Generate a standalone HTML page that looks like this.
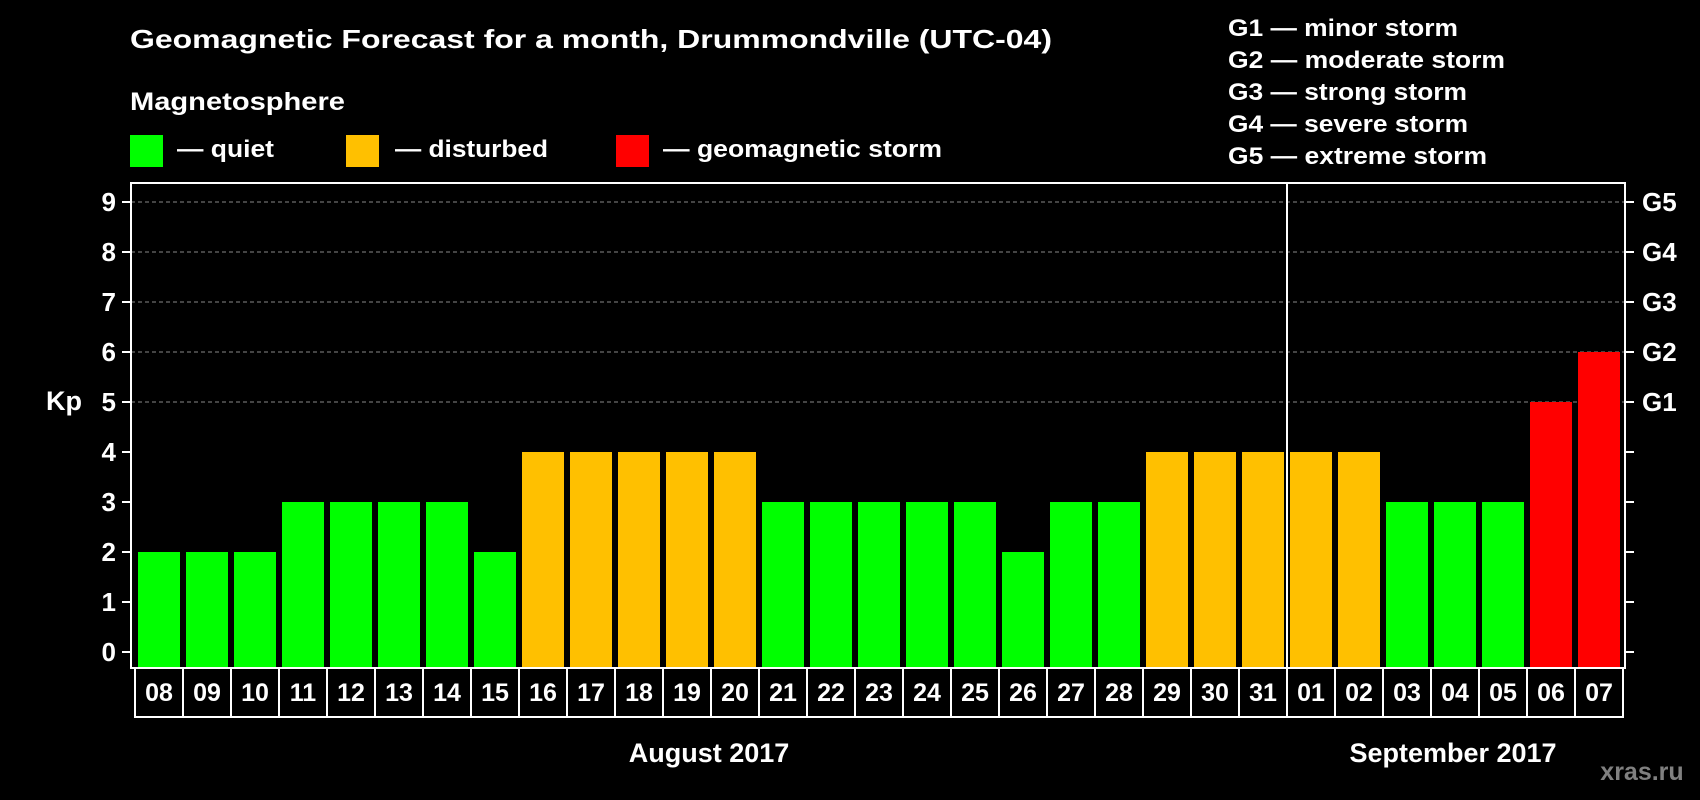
<!DOCTYPE html>
<html><head><meta charset="utf-8"><style>
html,body{margin:0;padding:0;background:#000;}
svg{display:block;font-family:"Liberation Sans",Arial,sans-serif;font-weight:bold;}
</style></head><body>
<svg id="chart" width="1700" height="800" viewBox="0 0 1700 800" xmlns="http://www.w3.org/2000/svg">
<rect x="0" y="0" width="1700" height="800" fill="#000"/>
<text x="130" y="48" fill="#fff" font-size="26" textLength="922" lengthAdjust="spacingAndGlyphs">Geomagnetic Forecast for a month, Drummondville (UTC-04)</text>
<text x="130" y="110" fill="#fff" font-size="25" textLength="215" lengthAdjust="spacingAndGlyphs">Magnetosphere</text>
<rect x="130" y="135" width="33" height="32" fill="#00ff00"/>
<text x="177" y="157" fill="#fff" font-size="24" textLength="97" lengthAdjust="spacingAndGlyphs">— quiet</text>
<rect x="346" y="135" width="33" height="32" fill="#ffc000"/>
<text x="395" y="157" fill="#fff" font-size="24" textLength="153" lengthAdjust="spacingAndGlyphs">— disturbed</text>
<rect x="616" y="135" width="33" height="32" fill="#ff0000"/>
<text x="663" y="157" fill="#fff" font-size="24" textLength="279" lengthAdjust="spacingAndGlyphs">— geomagnetic storm</text>
<text x="1228" y="36" fill="#fff" font-size="24" textLength="230" lengthAdjust="spacingAndGlyphs">G1 — minor storm</text>
<text x="1228" y="68" fill="#fff" font-size="24" textLength="277" lengthAdjust="spacingAndGlyphs">G2 — moderate storm</text>
<text x="1228" y="100" fill="#fff" font-size="24" textLength="239" lengthAdjust="spacingAndGlyphs">G3 — strong storm</text>
<text x="1228" y="132" fill="#fff" font-size="24" textLength="240" lengthAdjust="spacingAndGlyphs">G4 — severe storm</text>
<text x="1228" y="164" fill="#fff" font-size="24" textLength="259" lengthAdjust="spacingAndGlyphs">G5 — extreme storm</text>
<g id="grid"></g>
<g id="bars"></g>
<g id="axes"></g>
<text x="64" y="410" fill="#fff" font-size="27" text-anchor="middle">Kp</text>
<text x="709" y="762" fill="#fff" font-size="27" text-anchor="middle">August 2017</text>
<text x="1453" y="762" fill="#fff" font-size="27" text-anchor="middle">September 2017</text>
<text x="1642" y="780" fill="#808080" font-size="25" text-anchor="middle">xras.ru</text>
</svg>
<script>
const days = ["08","09","10","11","12","13","14","15","16","17","18","19","20","21","22","23","24","25","26","27","28","29","30","31","01","02","03","04","05","06","07"];
const kpValues = [2,2,2,3,3,3,3,2,4,4,4,4,4,3,3,3,3,3,2,3,3,4,4,4,4,4,3,3,3,5,6];
const yTicks = [0,1,2,3,4,5,6,7,8,9];
const gLabels = ["G1","G2","G3","G4","G5"];
const gLevels = [5,6,7,8,9];
const monthBreakIndex = 24;

const NS = "http://www.w3.org/2000/svg";
const plotL = 131, plotR = 1625, plotT = 183, plotB = 668;
const y0 = 652, unit = 50;
const barStart = 138, pitch = 48, barW = 42;
const yScale = v => y0 - v * unit;
const xScale = i => barStart + i * pitch;
function mk(tag, attrs, parent) {
  const e = document.createElementNS(NS, tag);
  for (const k in attrs) e.setAttribute(k, attrs[k]);
  parent.appendChild(e);
  return e;
}
const grid = document.getElementById('grid');
const bars = document.getElementById('bars');
const axes = document.getElementById('axes');
function color(v){ return v >= 5 ? "#ff0000" : (v >= 4 ? "#ffc000" : "#00ff00"); }

gLevels.forEach((lv, i) => {
  const l = mk('line', {x1: plotL, x2: plotR, y1: yScale(lv), y2: yScale(lv), stroke: "#888", "stroke-width": 1, "stroke-dasharray": "4,3"}, grid);
  
  
  const t = mk('text', {x: 1642, y: yScale(lv) + 9, fill: "#fff", "font-size": 26}, axes);
  t.textContent = gLabels[i];
  
  
});

kpValues.forEach((v, i) => {
  const r = mk('rect', {x: xScale(i), y: yScale(v), width: barW, height: plotB - yScale(v), fill: color(v)}, bars);
  
  
  const b = mk('rect', {x: xScale(i) - 3, y: plotB, width: pitch, height: 49, fill: "none", stroke: "#fff", "stroke-width": 2}, axes);
  
  
  const t = mk('text', {x: xScale(i) + barW / 2, y: 701, fill: "#fff", "font-size": 25, "text-anchor": "middle"}, axes);
  t.textContent = days[i];
  
  
});

const fr = mk('rect', {x: plotL, y: plotT, width: plotR - plotL, height: plotB - plotT, fill: "none", stroke: "#fff", "stroke-width": 2}, axes);


const sep = mk('line', {x1: xScale(monthBreakIndex) - 3, x2: xScale(monthBreakIndex) - 3, y1: plotT, y2: plotB, stroke: "#fff", "stroke-width": 2}, axes);



yTicks.forEach(v => {
  const y = yScale(v);
  const tl = mk('line', {x1: plotL - 9, x2: plotL, y1: y, y2: y, stroke: "#fff", "stroke-width": 2}, axes);
  
  
  const tr = mk('line', {x1: plotR, x2: plotR + 9, y1: y, y2: y, stroke: "#fff", "stroke-width": 2}, axes);
  
  
  const t = mk('text', {x: 116, y: y + 9, fill: "#fff", "font-size": 26, "text-anchor": "end"}, axes);
  t.textContent = v;
  
  
});
</script>
</body></html>
